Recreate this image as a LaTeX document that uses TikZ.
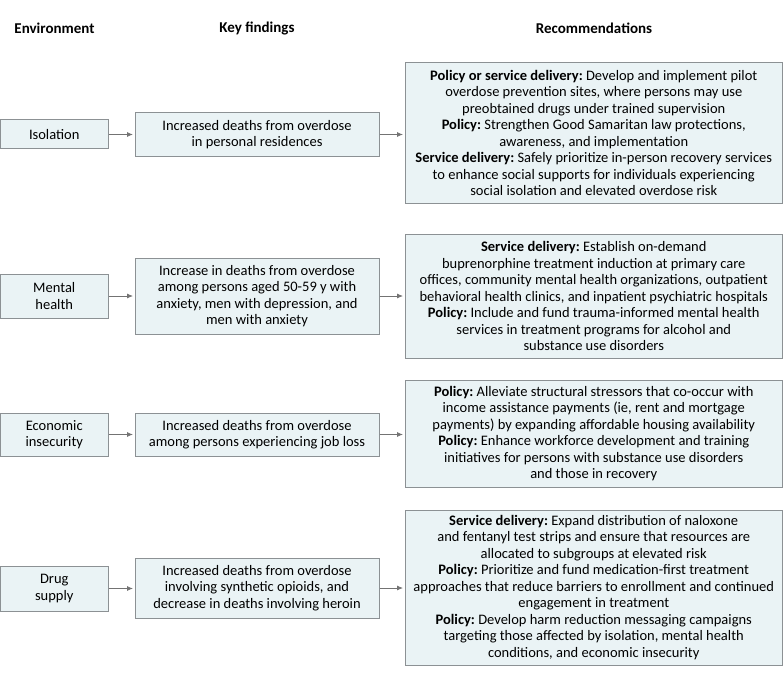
\documentclass[tikz,border=0pt]{standalone}
\usepackage{fontspec}
\setmainfont{Carlito}
\usetikzlibrary{arrows.meta}
\frenchspacing
\definecolor{boxfill}{RGB}{234,243,245}
\definecolor{boxline}{RGB}{140,145,148}
\definecolor{arrowc}{RGB}{115,115,115}
\tikzset{
  base/.style={draw=boxline, fill=boxfill, line width=1pt, align=center, inner xsep=1pt, inner ysep=0pt,
    font=\fontsize{14.5}{16.5}\selectfont},
  envbox/.style={base, minimum width=107.5pt},
  findbox/.style={base, minimum width=244pt},
  recbox/.style={base, minimum width=377.5pt},
  header/.style={font=\fontsize{15}{16.5}\selectfont\bfseries},
  conn/.style={draw=arrowc, line width=0.8pt, -{Latex[length=6pt,width=5pt]}, shorten >=1.5pt}
}
\begin{document}
\begin{tikzpicture}[x=1pt,y=-1pt]
\useasboundingbox (0,0) rectangle (783,679);
\node[header] (h1) at (54.5,28) {Environment};
\node[header] (h2) at (257,28) {Key findings};
\node[header] (h3) at (594,28) {Recommendations};
% Row 1
\node[envbox, minimum height=29pt] (e1) at (54.25,134.5) {Isolation};
\node[findbox, minimum height=44pt] (f1) at (257,134.5) {Increased deaths from overdose\\in personal residences};
\node[recbox, minimum height=140pt] (r1) at (593.75,133) {\textbf{Policy or service delivery:} Develop and implement pilot\\overdose prevention sites, where persons may use\\preobtained drugs under trained supervision\\\textbf{Policy:} Strengthen Good Samaritan law protections,\\awareness, and implementation\\\textbf{Service delivery:} Safely prioritize in-person recovery services\\to enhance social supports for individuals experiencing\\social isolation and elevated overdose risk};
% Row 2
\node[envbox, minimum height=44pt] (e2) at (54.25,296) {Mental\\health};
\node[findbox, minimum height=76pt] (f2) at (257,296) {Increase in deaths from overdose\\among persons aged 50-59 y with\\anxiety, men with depression, and\\men with anxiety};
\node[recbox, minimum height=124pt] (r2) at (593.75,296) {\textbf{Service delivery:} Establish on-demand\\buprenorphine treatment induction at primary care\\offices, community mental health organizations, outpatient\\behavioral health clinics, and inpatient psychiatric hospitals\\\textbf{Policy:} Include and fund trauma-informed mental health\\services in treatment programs for alcohol and\\substance use disorders};
% Row 3
\node[envbox, minimum height=43pt] (e3) at (54.25,434.5) {Economic\\insecurity};
\node[findbox, minimum height=43pt] (f3) at (257,434.5) {Increased deaths from overdose\\among persons experiencing job loss};
\node[recbox, minimum height=107pt] (r3) at (593.75,433.5) {\textbf{Policy:} Alleviate structural stressors that co-occur with\\income assistance payments (ie, rent and mortgage\\payments) by expanding affordable housing availability\\\textbf{Policy:} Enhance workforce development and training\\initiatives for persons with substance use disorders\\and those in recovery};
% Row 4
\node[envbox, minimum height=45pt] (e4) at (54.25,588.5) {Drug\\supply};
\node[findbox, minimum height=60pt] (f4) at (257,588) {Increased deaths from overdose\\involving synthetic opioids, and\\decrease in deaths involving heroin};
\node[recbox, minimum height=155pt] (r4) at (593.75,587.5) {\textbf{Service delivery:} Expand distribution of naloxone\\and fentanyl test strips and ensure that resources are\\allocated to subgroups at elevated risk\\\textbf{Policy:} Prioritize and fund medication-first treatment\\approaches that reduce barriers to enrollment and continued\\engagement in treatment\\\textbf{Policy:} Develop harm reduction messaging campaigns\\targeting those affected by isolation, mental health\\conditions, and economic insecurity};
% Connectors
\draw[conn] (e1.east) -- (e1.east -| f1.west);
\draw[conn] (f1.east) -- (f1.east -| r1.west);
\draw[conn] (e2.east) -- (e2.east -| f2.west);
\draw[conn] (f2.east) -- (f2.east -| r2.west);
\draw[conn] (e3.east) -- (e3.east -| f3.west);
\draw[conn] (f3.east) -- (f3.east -| r3.west);
\draw[conn] (e4.east) -- (e4.east -| f4.west);
\draw[conn] (f4.east) -- (f4.east -| r4.west);
\end{tikzpicture}
\end{document}
